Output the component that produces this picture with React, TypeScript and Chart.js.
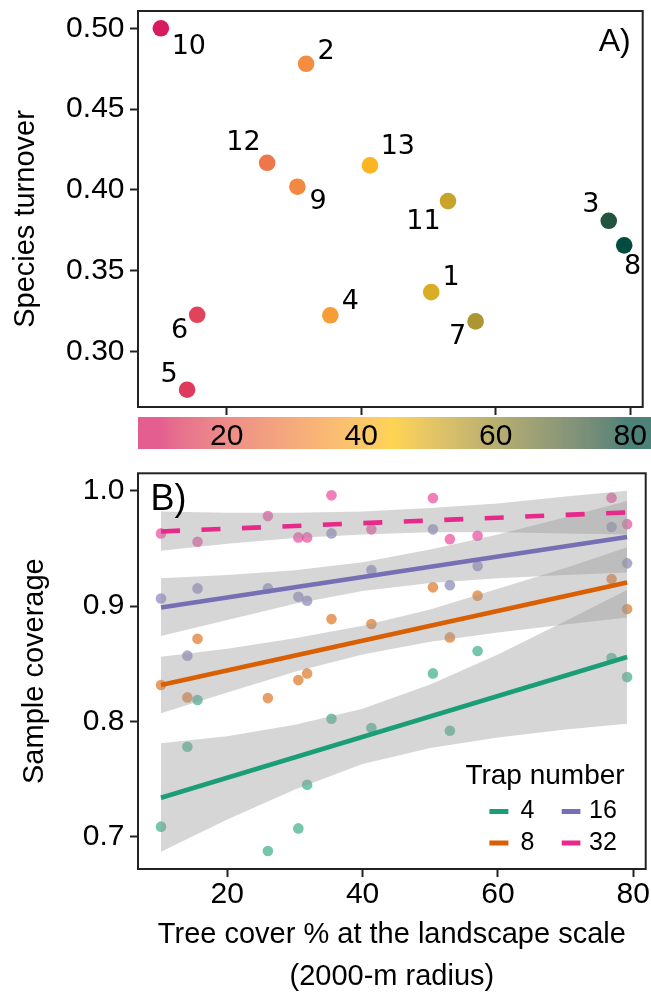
import React, { useEffect, useRef } from "react";
import { Chart, registerables } from "chart.js";

Chart.register(...registerables);

// ---------- Data (panel A) ----------
const siteLabels = ["1", "2", "3", "4", "5", "6", "7", "8", "9", "10", "11", "12", "13"];
const treeCover = [50.4, 31.8, 76.8, 35.4, 14.1, 15.6, 57.0, 79.1, 30.5, 10.2, 52.9, 26.0, 41.3];
const speciesTurnover = [0.3366, 0.478, 0.3808, 0.3223, 0.2762, 0.3226, 0.3185, 0.3656, 0.4019, 0.5, 0.393, 0.4167, 0.4151];

// label nudges (px) for the site numbers
const labelNudges = [
  [20, -14.5], [20, -12.3], [-18, -15.7], [20, -13.3], [-18, -14.5], [-17.7, 16], [-18, 15.4],
  [8.3, 21.7], [20.7, 15], [28, 19], [-24.6, 20.7], [-23.7, -19.4], [27.8, -18.6],
];

const gradientColors = ["#D81B60", "#FFC107", "#004D40"];

// ---------- Data (panel B) ----------
const trapNumbers = ["4", "8", "16", "32"];
const coverage4 = [0.8416, 0.745, 0.8549, 0.8023, 0.778, 0.8185, 0.861, 0.8384, 0.7072, 0.7087, 0.7919, 0.6876, 0.7942];
const coverage8 = [0.9162, 0.8416, 0.9234, 0.8887, 0.8208, 0.8717, 0.909, 0.8974, 0.8358, 0.8315, 0.8728, 0.8202, 0.8844];
const coverage16 = [0.9665, 0.9046, 0.9686, 0.963, 0.857, 0.9153, 0.9347, 0.937, 0.908, 0.9066, 0.918, 0.9153, 0.9312];
const coverage32 = [0.9936, 0.9595, 0.9939, 0.996, null, 0.9558, 0.961, 0.971, 0.9595, 0.963, 0.958, 0.978, 0.9665];

const fitX = [10.2, 79.1];
const fit4 = [0.7338, 0.8558];
const fit8 = [0.8315, 0.9205];
const fit16 = [0.8988, 0.9599];
const fit32 = [0.9647, 0.9812];

const bandX = [10.2, 20, 30, 40, 50, 60, 70, 79.1];
const band4Lower = [0.687, 0.715, 0.741, 0.763, 0.777, 0.786, 0.793, 0.798];
const band4Upper = [0.781, 0.787, 0.797, 0.811, 0.832, 0.858, 0.887, 0.914];
const band8Lower = [0.807, 0.825, 0.843, 0.858, 0.869, 0.877, 0.884, 0.89];
const band8Upper = [0.856, 0.863, 0.872, 0.883, 0.897, 0.915, 0.933, 0.951];
const band16Lower = [0.874, 0.888, 0.902, 0.913, 0.92, 0.924, 0.927, 0.929];
const band16Upper = [0.924, 0.927, 0.931, 0.938, 0.949, 0.962, 0.977, 0.991];
const band32Lower = [0.948, 0.954, 0.959, 0.962, 0.964, 0.964, 0.963, 0.962];
const band32Upper = [0.982, 0.981, 0.981, 0.982, 0.985, 0.989, 0.995, 1.0];

const seriesColors = ["#1B9E77", "#D95F02", "#7570B3", "#E7298A"];

// ---------- Ticks ----------
const treeCoverTicks = [20, 40, 60, 80];
const turnoverTicks = [0.3, 0.35, 0.4, 0.45, 0.5];
const coverageTicks = [0.7, 0.8, 0.9, 1.0];

const SANS = '"Liberation Sans", Arial, sans-serif';
const DEJAVU = '"DejaVu Sans", sans-serif';
const TICK_SIZE = 30;

// ---------- colour helpers (Lab interpolation like ggplot gradientn) ----------
function hexToRgb(h: string) {
  const n = parseInt(h.slice(1), 16);
  return [(n >> 16) & 255, (n >> 8) & 255, n & 255];
}
function toLin(c: number) {
  c /= 255;
  return c <= 0.04045 ? c / 12.92 : Math.pow((c + 0.055) / 1.055, 2.4);
}
function fromLin(c: number) {
  const v = c <= 0.0031308 ? 12.92 * c : 1.055 * Math.pow(c, 1 / 2.4) - 0.055;
  return Math.round(Math.min(1, Math.max(0, v)) * 255);
}
function rgbToLab(rgb: number[]) {
  const R = toLin(rgb[0]), G = toLin(rgb[1]), B = toLin(rgb[2]);
  const X = (0.4124 * R + 0.3576 * G + 0.1805 * B) / 0.95047;
  const Y = 0.2126 * R + 0.7152 * G + 0.0722 * B;
  const Z = (0.0193 * R + 0.1192 * G + 0.9505 * B) / 1.08883;
  const f = (t: number) => (t > 0.008856 ? Math.cbrt(t) : 7.787 * t + 16 / 116);
  const fx = f(X), fy = f(Y), fz = f(Z);
  return [116 * fy - 16, 500 * (fx - fy), 200 * (fy - fz)];
}
function labToRgb(lab: number[]) {
  const fy = (lab[0] + 16) / 116;
  const fx = fy + lab[1] / 500;
  const fz = fy - lab[2] / 200;
  const inv = (t: number) => (t * t * t > 0.008856 ? t * t * t : (t - 16 / 116) / 7.787);
  const X = inv(fx) * 0.95047, Y = inv(fy), Z = inv(fz) * 1.08883;
  const R = 3.2406 * X - 1.5372 * Y - 0.4986 * Z;
  const G = -0.9689 * X + 1.8758 * Y + 0.0415 * Z;
  const B = 0.0557 * X - 0.204 * Y + 1.057 * Z;
  return [fromLin(R), fromLin(G), fromLin(B)];
}
const gradientLab = gradientColors.map((c) => rgbToLab(hexToRgb(c)));
const tcMin = Math.min(...treeCover);
const tcMax = Math.max(...treeCover);
function colorFor(v: number) {
  let t = (v - tcMin) / (tcMax - tcMin);
  t = Math.min(1, Math.max(0, t));
  const segs = gradientLab.length - 1;
  const k = Math.min(segs - 1, Math.floor(t * segs));
  const u = t * segs - k;
  const a = gradientLab[k], b = gradientLab[k + 1];
  const rgb = labToRgb([a[0] + (b[0] - a[0]) * u, a[1] + (b[1] - a[1]) * u, a[2] + (b[2] - a[2]) * u]);
  return `rgb(${rgb[0]},${rgb[1]},${rgb[2]})`;
}
function withAlpha(hex: string, a: number) {
  const [r, g, b] = hexToRgb(hex);
  return `rgba(${r},${g},${b},${a})`;
}

const AXIS_COLOR = "#222222";

function axisCommon() {
  return {
    grid: { drawOnChartArea: false, drawTicks: true, tickLength: 8, tickWidth: 2, tickColor: AXIS_COLOR },
    border: { display: false },
  };
}
function noPad(s: any) {
  s.paddingTop = 0;
  s.paddingBottom = 0;
  s.paddingLeft = 0;
  s.paddingRight = 0;
}

const boxPlugin = {
  id: "panelBox",
  afterDraw(chart: any) {
    const { ctx, chartArea } = chart;
    ctx.save();
    ctx.strokeStyle = AXIS_COLOR;
    ctx.lineWidth = 2;
    ctx.strokeRect(chartArea.left, chartArea.top, chartArea.right - chartArea.left, chartArea.bottom - chartArea.top);
    ctx.restore();
  },
};

function topConfig(): any {
  const pts = treeCover.map((x, i) => ({ x, y: speciesTurnover[i] }));
  const colors = treeCover.map((v) => colorFor(v));
  const colorbarPlugin = {
    id: "colorbar",
    beforeDraw(chart: any) {
      const { ctx, chartArea } = chart;
      const xs = chart.scales.x;
      const top = chartArea.bottom + 10;
      ctx.save();
      ctx.globalAlpha = 0.7;
      for (let px = Math.floor(chartArea.left); px < chart.width; px++) {
        ctx.fillStyle = colorFor(xs.getValueForPixel(px + 0.5));
        ctx.fillRect(px, top, 1, 32);
      }
      ctx.restore();
    },
  };
  const labelPlugin = {
    id: "siteLabels",
    afterDatasetsDraw(chart: any) {
      const { ctx, chartArea } = chart;
      const meta = chart.getDatasetMeta(0);
      ctx.save();
      ctx.fillStyle = "#000";
      ctx.font = `27px ${DEJAVU}`;
      ctx.textAlign = "center";
      ctx.textBaseline = "middle";
      meta.data.forEach((p: any, i: number) => {
        ctx.fillText(siteLabels[i], p.x + labelNudges[i][0], p.y + labelNudges[i][1]);
      });
      ctx.font = `32px ${SANS}`;
      ctx.textAlign = "right";
      ctx.textBaseline = "alphabetic";
      ctx.fillText("A)", chartArea.right - 12, chartArea.top + 40);
      // y-axis title
      ctx.font = `29px ${SANS}`;
      ctx.textAlign = "center";
      ctx.textBaseline = "middle";
      ctx.translate(26, (chartArea.top + chartArea.bottom) / 2 + 10);
      ctx.rotate(-Math.PI / 2);
      ctx.fillText("Species turnover", 0, 0);
      ctx.restore();
    },
  };
  return {
    type: "scatter",
    data: {
      datasets: [
        {
          data: pts,
          pointBackgroundColor: colors,
          pointBorderColor: "transparent",
          pointBorderWidth: 0,
          pointRadius: 8.3,
        },
      ],
    },
    options: {
      responsive: false,
      animation: false,
      devicePixelRatio: 1,
      events: [],
      layout: { padding: { top: 11, right: 3, bottom: 11, left: 0 } },
      plugins: { legend: { display: false }, tooltip: { enabled: false } },
      scales: {
        x: {
          type: "linear",
          min: 6.8,
          max: 81.85,
          ...axisCommon(),
          afterBuildTicks: (s: any) => {
            s.ticks = treeCoverTicks.map((v) => ({ value: v }));
          },
          afterFit: (s: any) => {
            s.height = 42;
            noPad(s);
          },
          ticks: {
            font: { family: SANS, size: TICK_SIZE },
            color: "#000",
            padding: 3.4,
            maxRotation: 0,
            autoSkip: false,
            callback: (v: any) => String(v),
          },
        },
        y: {
          type: "linear",
          min: 0.2655,
          max: 0.5107,
          ...axisCommon(),
          afterBuildTicks: (s: any) => {
            s.ticks = turnoverTicks.map((v) => ({ value: v }));
          },
          afterFit: (s: any) => {
            s.width = 138;
            noPad(s);
          },
          ticks: {
            font: { family: SANS, size: TICK_SIZE },
            color: "#000",
            padding: 5.5,
            autoSkip: false,
            callback: (v: any) => Number(v).toFixed(2),
          },
        },
      },
    },
    plugins: [colorbarPlugin, boxPlugin, labelPlugin],
  };
}

function bottomConfig(): any {
  const coverages = [coverage4, coverage8, coverage16, coverage32];
  const fits = [fit4, fit8, fit16, fit32];
  const lowers = [band4Lower, band8Lower, band16Lower, band32Lower];
  const uppers = [band4Upper, band8Upper, band16Upper, band32Upper];
  const datasets: any[] = [];
  coverages.forEach((cov, k) => {
    datasets.push({
      label: trapNumbers[k],
      data: treeCover
        .map((x, i) => ({ x, y: cov[i] }))
        .filter((p) => p.y !== null && p.y !== undefined),
      showLine: false,
      pointRadius: 5.3,
      pointBackgroundColor: withAlpha(seriesColors[k], 0.6),
      pointBorderColor: "transparent",
      pointBorderWidth: 0,
      order: 3,
    });
  });
  coverages.forEach((_, k) => {
    const lowerIndex = datasets.length;
    datasets.push({
      data: bandX.map((x, i) => ({ x, y: lowers[k][i] })),
      borderColor: "transparent",
      borderWidth: 0,
      pointRadius: 0,
      fill: false,
      order: 2,
    });
    datasets.push({
      data: bandX.map((x, i) => ({ x, y: uppers[k][i] })),
      borderColor: "transparent",
      borderWidth: 0,
      pointRadius: 0,
      backgroundColor: "rgba(153,153,153,0.4)",
      fill: lowerIndex,
      order: 2,
    });
  });
  fits.forEach((f, k) => {
    datasets.push({
      data: fitX.map((x, i) => ({ x, y: f[i] })),
      borderColor: seriesColors[k],
      borderWidth: 4.6,
      borderDash: k === 3 ? [19, 21.5] : [],
      borderCapStyle: "butt",
      pointRadius: 0,
      fill: false,
      order: 1,
    });
  });

  const legendPlugin = {
    id: "trapLegend",
    afterDraw(chart: any) {
      const { ctx, chartArea } = chart;
      const R = chartArea.right;
      const Bm = chartArea.bottom;
      ctx.save();
      ctx.fillStyle = "#000";
      ctx.font = `28px ${SANS}`;
      ctx.textAlign = "left";
      ctx.textBaseline = "alphabetic";
      ctx.fillText("Trap number", R - 180.3, Bm - 85);
      ctx.font = `25px ${SANS}`;
      ctx.textBaseline = "middle";
      const rowY = [Bm - 57.5, Bm - 26];
      const keyX = [
        [R - 156.3, R - 137.3],
        [R - 84, R - 65.3],
      ];
      const labX = [R - 125.3, R - 56.6];
      trapNumbers.forEach((t, i) => {
        const col = Math.floor(i / 2);
        const row = i % 2;
        ctx.strokeStyle = seriesColors[i];
        ctx.lineWidth = 5;
        ctx.lineCap = "butt";
        ctx.beginPath();
        ctx.moveTo(keyX[col][0], rowY[row]);
        ctx.lineTo(keyX[col][1], rowY[row]);
        ctx.stroke();
        ctx.fillStyle = "#000";
        ctx.fillText(t, labX[col], rowY[row]);
      });
      ctx.font = `36px ${SANS}`;
      ctx.textAlign = "left";
      ctx.textBaseline = "alphabetic";
      ctx.fillText("B)", chartArea.left + 12.5, chartArea.top + 37);
      ctx.restore();
    },
  };

  return {
    type: "line",
    data: { datasets },
    options: {
      responsive: false,
      animation: false,
      devicePixelRatio: 1,
      events: [],
      layout: { padding: { top: 13.3, right: 3, bottom: 0, left: 0 } },
      plugins: { legend: { display: false }, tooltip: { enabled: false }, filler: { propagate: false } },
      scales: {
        x: {
          type: "linear",
          min: 6.8,
          max: 81.85,
          ...axisCommon(),
          afterBuildTicks: (s: any) => {
            s.ticks = treeCoverTicks.map((v) => ({ value: v }));
          },
          afterFit: (s: any) => {
            s.height = 132;
            noPad(s);
          },
          ticks: {
            font: { family: SANS, size: TICK_SIZE },
            color: "#000",
            padding: 0,
            maxRotation: 0,
            autoSkip: false,
            callback: (v: any) => String(v),
          },
          title: {
            display: true,
            text: ["Tree cover % at the landscape scale", "(2000-m radius)"],
            font: { family: SANS, size: 29, lineHeight: 1.45 },
            color: "#000",
            padding: { top: 0, bottom: 2.7 },
          },
        },
        y: {
          type: "linear",
          min: 0.672,
          max: 1.0151,
          ...axisCommon(),
          afterBuildTicks: (s: any) => {
            s.ticks = coverageTicks.map((v) => ({ value: v }));
          },
          afterFit: (s: any) => {
            s.width = 138;
            noPad(s);
          },
          ticks: {
            font: { family: SANS, size: TICK_SIZE },
            color: "#000",
            padding: 5.5,
            autoSkip: false,
            callback: (v: any) => Number(v).toFixed(1),
          },
          title: {
            display: true,
            text: "Sample coverage",
            font: { family: SANS, size: 29 },
            color: "#000",
            padding: { top: 17.6, bottom: 0 },
          },
        },
      },
    },
    plugins: [boxPlugin, legendPlugin],
  };
}

export default function App() {
  const topRef = useRef<HTMLCanvasElement>(null);
  const botRef = useRef<HTMLCanvasElement>(null);
  useEffect(() => {
    const c1 = new Chart(topRef.current as HTMLCanvasElement, topConfig());
    const c2 = new Chart(botRef.current as HTMLCanvasElement, bottomConfig());
    return () => {
      c1.destroy();
      c2.destroy();
    };
  }, []);
  return (
    <div style={{ position: "absolute", left: 0, top: 0, width: 651, height: 1001, background: "#fff" }}>
      <canvas
        ref={topRef}
        width={651}
        height={460}
        style={{ position: "absolute", left: 0, top: 0, width: "651px", height: "460px" }}
      />
      <canvas
        ref={botRef}
        width={651}
        height={541}
        style={{ position: "absolute", left: 0, top: 460, width: "651px", height: "541px" }}
      />
    </div>
  );
}
